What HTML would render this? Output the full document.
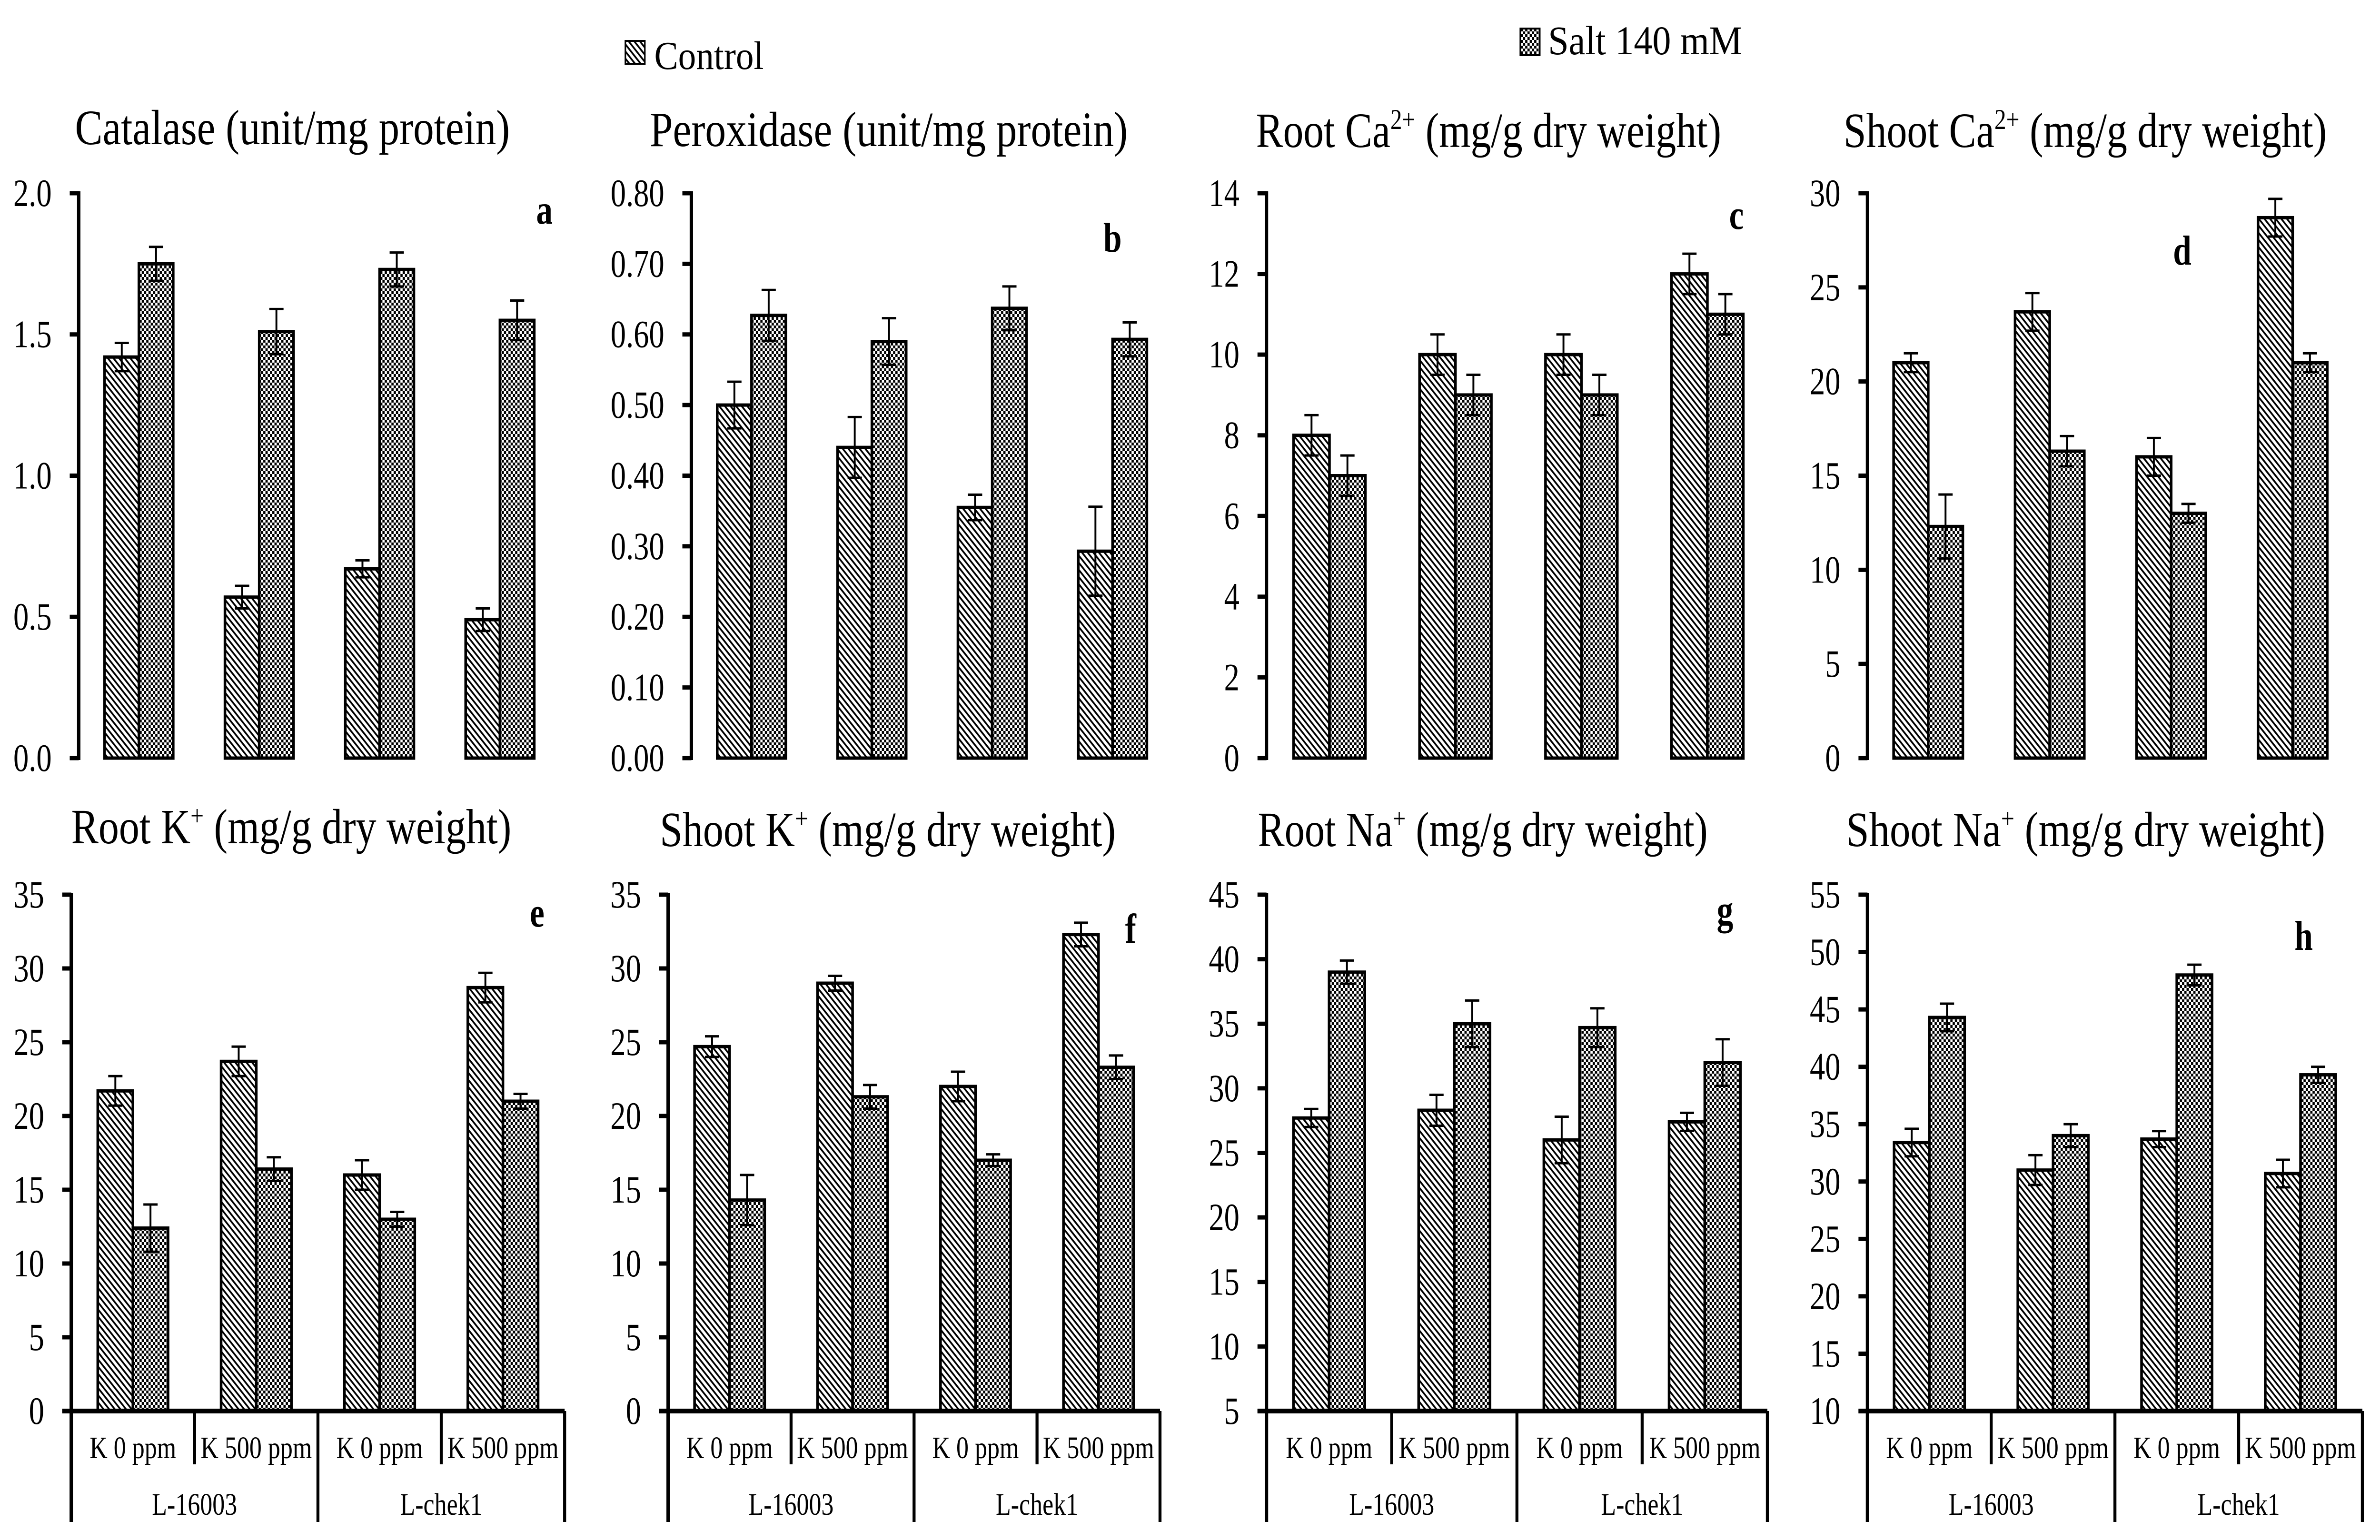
<!DOCTYPE html>
<html><head><meta charset="utf-8">
<style>
html,body{margin:0;padding:0;background:#fff;width:100%;height:100%;overflow:hidden;}
svg{display:block;font-family:"Liberation Serif",serif;width:100vw;height:100vh;}
</style></head>
<body>
<svg id="fig" xmlns="http://www.w3.org/2000/svg" viewBox="0 0 6348 3236" preserveAspectRatio="none">
<defs>
<pattern id="hatch" patternUnits="userSpaceOnUse" width="15" height="15">
<rect width="15" height="15" fill="#fff"/>
<path d="M-2,-2 L17,17 M-2,13 L2,17 M13,-2 L17,2" stroke="#000" stroke-width="4.2"/>
</pattern>
<pattern id="checker" patternUnits="userSpaceOnUse" width="12" height="12">
<rect width="12" height="12" fill="#fff"/>
<rect x="0" y="0" width="6" height="6" fill="#000"/>
<rect x="6" y="6" width="6" height="6" fill="#000"/>
</pattern>
</defs>
<g id="legend">
<rect x="1668" y="86" width="52" height="48" fill="url(#hatch)" stroke="#000" stroke-width="4"/>
<text x="1745" y="145" font-size="84" textLength="292" lengthAdjust="spacingAndGlyphs">Control</text>
<rect x="4055" y="60" width="52" height="56" fill="url(#checker)" stroke="#000" stroke-width="4"/>
<text x="4129" y="114" font-size="86" textLength="518" lengthAdjust="spacingAndGlyphs">Salt 140 mM</text>
</g>
<g id="panels"></g>
</svg>
<script>
// ---- data ----
const groupLabels = ["K 0 ppm","K 500 ppm","K 0 ppm","K 500 ppm"];
const lineLabels = ["L-16003","L-chek1"];

const catalaseControl = [1.42,0.57,0.67,0.49];
const catalaseControlErr = [0.05,0.04,0.03,0.04];
const catalaseSalt = [1.75,1.51,1.73,1.55];
const catalaseSaltErr = [0.06,0.08,0.06,0.07];
const catalaseTicks = [0,0.5,1.0,1.5,2.0];

const peroxControl = [0.50,0.44,0.355,0.293];
const peroxControlErr = [0.033,0.043,0.018,0.063];
const peroxSalt = [0.627,0.59,0.637,0.593];
const peroxSaltErr = [0.036,0.033,0.031,0.024];
const peroxTicks = [0,0.1,0.2,0.3,0.4,0.5,0.6,0.7,0.8];

const rootCaControl = [8,10,10,12];
const rootCaControlErr = [0.5,0.5,0.5,0.5];
const rootCaSalt = [7,9,9,11];
const rootCaSaltErr = [0.5,0.5,0.5,0.5];
const rootCaTicks = [0,2,4,6,8,10,12,14];

const shootCaControl = [21,23.7,16,28.7];
const shootCaControlErr = [0.5,1,1,1];
const shootCaSalt = [12.3,16.3,13,21];
const shootCaSaltErr = [1.7,0.8,0.5,0.5];
const shootCaTicks = [0,5,10,15,20,25,30];

const rootKControl = [21.7,23.7,16,28.7];
const rootKControlErr = [1,1,1,1];
const rootKSalt = [12.4,16.4,13,21];
const rootKSaltErr = [1.6,0.8,0.5,0.5];
const rootKTicks = [0,5,10,15,20,25,30,35];

const shootKControl = [24.7,29,22,32.3];
const shootKControlErr = [0.7,0.5,1,0.8];
const shootKSalt = [14.3,21.3,17,23.3];
const shootKSaltErr = [1.7,0.8,0.4,0.8];
const shootKTicks = [0,5,10,15,20,25,30,35];

const rootNaControl = [27.7,28.3,26,27.4];
const rootNaControlErr = [0.7,1.2,1.8,0.7];
const rootNaSalt = [39,35,34.7,32];
const rootNaSaltErr = [0.9,1.8,1.5,1.8];
const rootNaTicks = [5,10,15,20,25,30,35,40,45];

const shootNaControl = [33.4,31,33.7,30.7];
const shootNaControlErr = [1.2,1.3,0.7,1.2];
const shootNaSalt = [44.3,34,48,39.3];
const shootNaSaltErr = [1.2,1.0,0.9,0.7];
const shootNaTicks = [10,15,20,25,30,35,40,45,50,55];

// ---- layout ----
const NS = "http://www.w3.org/2000/svg";
const root = document.getElementById('panels');
function mk(tag, attrs, parent){
  const e = document.createElementNS(NS, tag);
  for (const k in attrs) e.setAttribute(k, attrs[k]);
  (parent||root).appendChild(e);
  return e;
}
const panels = [
 {id:"a",name:"catalase",title:["Catalase (unit/mg protein)"],tx:200,tw:1160,ty:303,ax:210,gw:321,top:406,bot:1593,c:catalaseControl,ce:catalaseControlErr,s:catalaseSalt,se:catalaseSaltErr,ticks:catalaseTicks,dec:1,lx:1430,ly:470,cat:false},
 {id:"b",name:"peroxidase",title:["Peroxidase (unit/mg protein)"],tx:1733,tw:1275,ty:307,ax:1844,gw:321,top:406,bot:1593,c:peroxControl,ce:peroxControlErr,s:peroxSalt,se:peroxSaltErr,ticks:peroxTicks,dec:2,lx:2943,ly:529,cat:false},
 {id:"c",name:"root-ca",title:["Root Ca","2+"," (mg/g dry weight)"],tx:3350,tw:1241,ty:309,ax:3378,gw:336,top:406,bot:1593,c:rootCaControl,ce:rootCaControlErr,s:rootCaSalt,se:rootCaSaltErr,ticks:rootCaTicks,dec:0,lx:4612,ly:481,cat:false},
 {id:"d",name:"shoot-ca",title:["Shoot Ca","2+"," (mg/g dry weight)"],tx:4917,tw:1289,ty:309,ax:4981,gw:324,top:406,bot:1593,c:shootCaControl,ce:shootCaControlErr,s:shootCaSalt,se:shootCaSaltErr,ticks:shootCaTicks,dec:0,lx:5796,ly:556,cat:false},
 {id:"e",name:"root-k",title:["Root K","+"," (mg/g dry weight)"],tx:190,tw:1174,ty:1772,ax:190,gw:329,top:1880,bot:2965,c:rootKControl,ce:rootKControlErr,s:rootKSalt,se:rootKSaltErr,ticks:rootKTicks,dec:0,lx:1413,ly:1947,cat:true},
 {id:"f",name:"shoot-k",title:["Shoot K","+"," (mg/g dry weight)"],tx:1760,tw:1216,ty:1778,ax:1782,gw:328,top:1880,bot:2965,c:shootKControl,ce:shootKControlErr,s:shootKSalt,se:shootKSaltErr,ticks:shootKTicks,dec:0,lx:3001,ly:1981,cat:true},
 {id:"g",name:"root-na",title:["Root Na","+"," (mg/g dry weight)"],tx:3355,tw:1200,ty:1778,ax:3378,gw:334,top:1880,bot:2965,c:rootNaControl,ce:rootNaControlErr,s:rootNaSalt,se:rootNaSaltErr,ticks:rootNaTicks,dec:0,lx:4579,ly:1942,cat:true},
 {id:"h",name:"shoot-na",title:["Shoot Na","+"," (mg/g dry weight)"],tx:4924,tw:1278,ty:1778,ax:4981,gw:330,top:1880,bot:2965,c:shootNaControl,ce:shootNaControlErr,s:shootNaSalt,se:shootNaSaltErr,ticks:shootNaTicks,dec:0,lx:6120,ly:1996,cat:true}
];

panels.forEach(p => {
  const g = mk('g', {});
  
  
  const vmin = p.ticks[0], vmax = p.ticks[p.ticks.length-1];
  const y = v => p.bot - (v - vmin) / (vmax - vmin) * (p.bot - p.top);

  const t = mk('text', {x:p.tx, y:p.ty, 'font-size':104, textLength:p.tw, lengthAdjust:'spacingAndGlyphs'}, g);
  
  
  p.title.forEach((part, i) => {
    const ts = mk('tspan', {}, t);
    if (i === 1) { ts.setAttribute('font-size', 60); ts.setAttribute('dy', -38); }
    if (i === 2) { ts.setAttribute('dy', 38); }
    ts.textContent = part;
  });

  const L = mk('text', {x:p.lx, y:p.ly, 'font-size':88, 'font-weight':'bold'}, g);
  
  
  L.textContent = p.id;

  const ya = mk('line', {x1:p.ax, y1:p.top - 4, x2:p.ax, y2:p.cat ? 3198 : p.bot + 4, stroke:'#000', 'stroke-width':9}, g);
  
  
  p.ticks.forEach(v => {
    const ty = y(v);
    const tk = mk('line', {x1:p.ax - 24, y1:ty, x2:p.ax, y2:ty, stroke:'#000', 'stroke-width':9}, g);
    
    
    const tl = mk('text', {x:p.ax - 72, y:ty + 27, 'font-size':82, 'text-anchor':'end'}, g);
    
    
    tl.textContent = v.toFixed(p.dec);
  });

  const bw = p.gw * 0.285;
  for (let i = 0; i < p.c.length; i++) {
    const cx = p.ax + p.gw * (i + 0.5);
    [[p.c[i], p.ce[i], cx - bw, 'url(#hatch)', 'control'], [p.s[i], p.se[i], cx, 'url(#checker)', 'salt']].forEach(b => {
      const yv = y(b[0]);
      const r = mk('rect', {x:b[2], y:yv, width:bw, height:p.bot - yv, fill:b[3], stroke:'#000', 'stroke-width':7}, g);
      
      
      const ex = b[2] + bw / 2;
      const e1 = mk('path', {d:`M${ex},${y(b[0]+b[1])}V${y(b[0]-b[1])}M${ex-19},${y(b[0]+b[1])}H${ex+19}M${ex-19},${y(b[0]-b[1])}H${ex+19}`, stroke:'#000', 'stroke-width':5, fill:'none'}, g);
      
      
    });
  }

  if (p.cat) {
    const xa = mk('line', {x1:p.ax - 24, y1:p.bot, x2:p.ax + 4 * p.gw, y2:p.bot, stroke:'#000', 'stroke-width':10}, g);
    
    
    for (let k = 1; k <= 4; k++) {
      const sx = p.ax + k * p.gw;
      const sep = mk('line', {x1:sx, y1:p.bot, x2:sx, y2:(k % 2 === 0) ? 3198 : 3077, stroke:'#000', 'stroke-width':8}, g);
      
      
    }
    groupLabels.forEach((lab, i) => {
      const tl = mk('text', {x:p.ax + p.gw * (i + 0.5), y:3064, 'font-size':66, 'text-anchor':'middle'}, g);
      
      
      tl.textContent = lab;
    });
    lineLabels.forEach((lab, i) => {
      const tl = mk('text', {x:p.ax + p.gw * (2 * i + 1), y:3183, 'font-size':66, 'text-anchor':'middle'}, g);
      
      
      tl.textContent = lab;
    });
  }
});
</script>
</body></html>
